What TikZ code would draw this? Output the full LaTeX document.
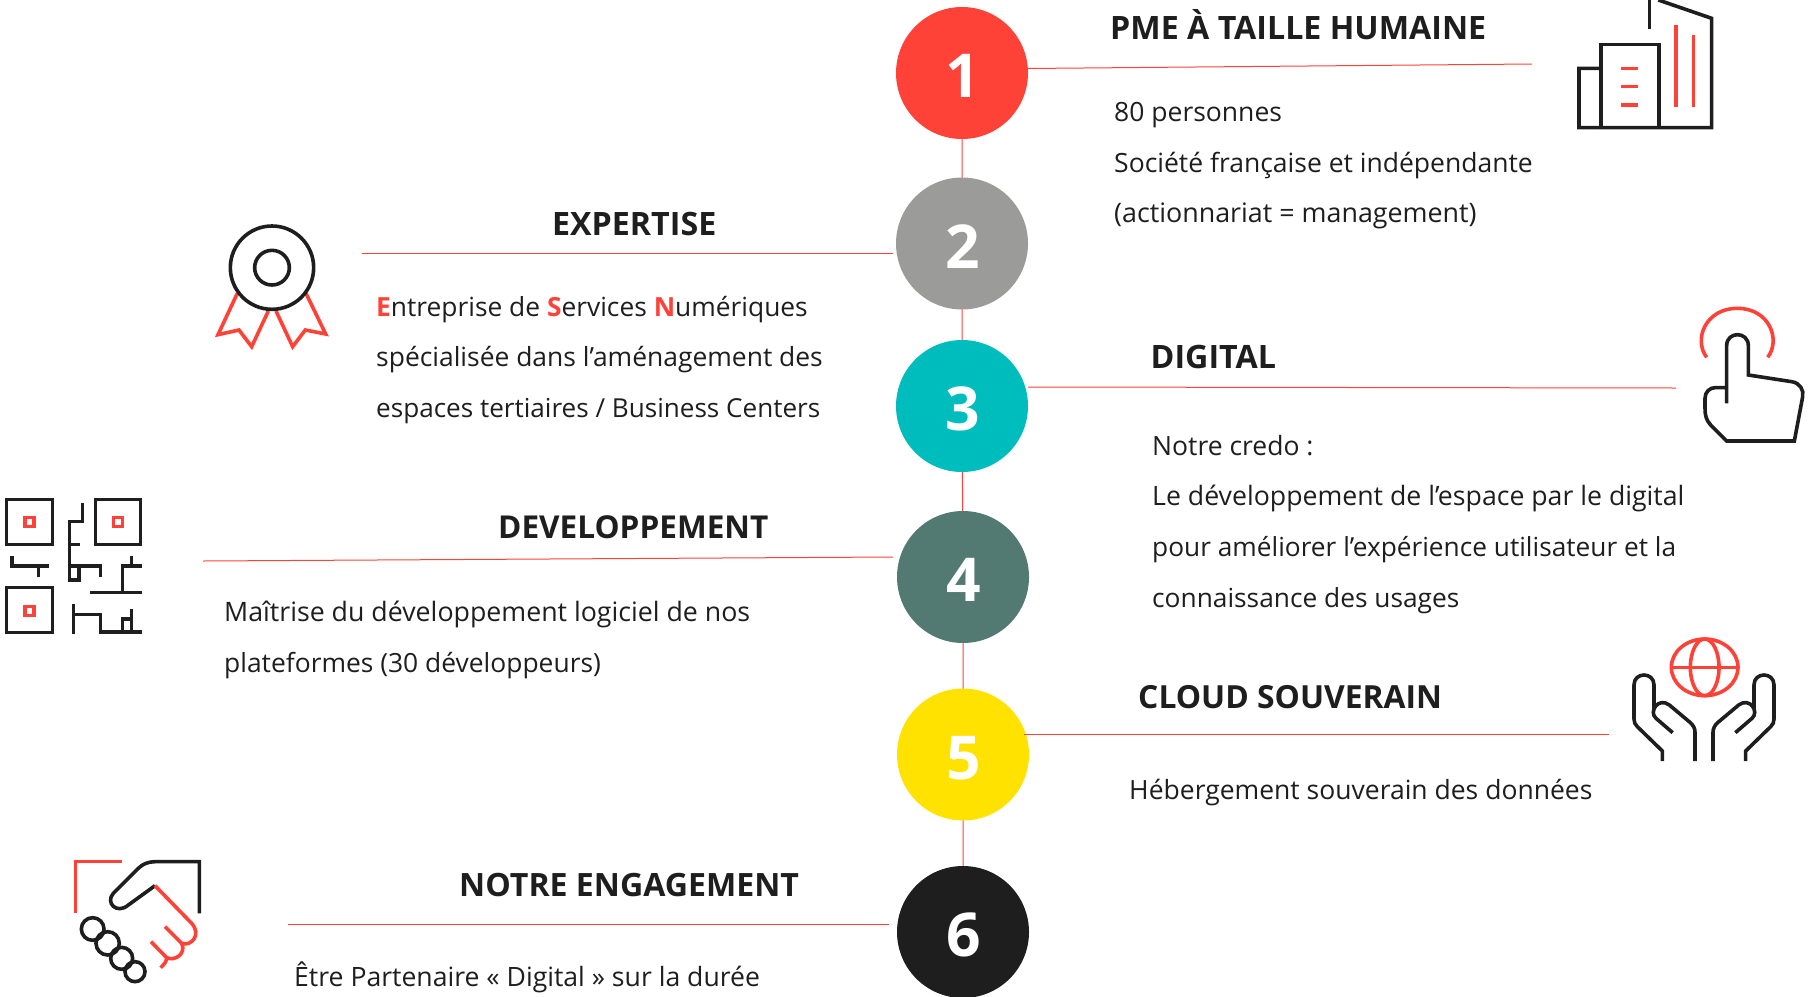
\documentclass[tikz,border=0pt]{standalone}
\usepackage{fontspec}
\setmainfont{Open Sans}
\definecolor{myred}{HTML}{FF4238}
\definecolor{myink}{HTML}{1E1E1E}
\definecolor{cgray}{HTML}{9B9B99}
\definecolor{cteal}{HTML}{00BDBD}
\definecolor{cgreen}{HTML}{527A73}
\definecolor{cyellow}{HTML}{FFE200}
\newcommand{\rl}[1]{\textcolor{myred}{\textbf{#1}}}
\newcommand{\dg}[1]{\hspace*{2pt}#1}
\tikzset{
 num/.style={circle,minimum size=132pt,inner sep=0pt,text height=49pt,text depth=0pt,font=\fontsize{60.5}{60.5}\selectfont\bfseries,text=white},
 ruleline/.style={draw=myred,line width=1pt},
 ttl/.style={anchor=base west,inner sep=0pt,text=myink,font=\fontsize{32.2}{32.2}\selectfont\bfseries},
 szb/.style={font=\fontsize{#1}{#1}\selectfont\bfseries},
 bodyt/.style={anchor=base west,inner sep=0pt,text=myink,font=\fontsize{26.5}{26.5}\selectfont},
 sz/.style={font=\fontsize{#1}{#1}\selectfont},
 ik/.style={draw=myink,line width=3.6pt,line join=miter},
 ir/.style={draw=myred,line width=3.6pt,line join=miter},
 zm/.style={x=0.33333pt,y=-0.33333pt},
}
\begin{document}
\begin{tikzpicture}[x=1pt,y=-1pt]
\useasboundingbox (0,0) rectangle (1809,996);
% circle positions
\coordinate (p1) at (962,73);
\coordinate (p2) at (962,243.5);
\coordinate (p3) at (962,406);
\coordinate (p4) at (963,577);
\coordinate (p5) at (963,754.5);
\coordinate (p6) at (963,932);
\draw[ruleline] (p1)--(p2)--(p3)--(p4)--(p5)--(p6);
\node[num,fill=myred] (c1) at (p1) {\dg{1}};
\node[num,fill=cgray] (c2) at (p2) {\dg{2}};
\node[num,fill=cteal] (c3) at (p3) {\dg{3}};
\node[num,fill=cgreen] (c4) at (p4) {\dg{4}};
\node[num,fill=cyellow] (c5) at (p5) {\dg{5}};
\node[num,fill=myink] (c6) at (p6) {\dg{6}};
% rules
\coordinate (r1a) at (1028,68.5); \coordinate (r1b) at (1532,64);
\coordinate (r2a) at (362,253); \coordinate (r2b) at (893,253);
\coordinate (r3a) at (1028,387); \coordinate (r3b) at (1676,388);
\coordinate (r4a) at (203,561); \coordinate (r4b) at (893,557);
\coordinate (r5a) at (1024,734); \coordinate (r5b) at (1609,734);
\coordinate (r6a) at (288,924); \coordinate (r6b) at (889,924);
\draw[ruleline] (r1a)--(r1b);
\draw[ruleline] (r2a)--(r2b);
\draw[ruleline] (r3a)--(r3b);
\draw[ruleline] (r4a)--(r4b);
\draw[ruleline] (r5a)--(r5b);
\draw[ruleline] (r6a)--(r6b);
% texts
\node[ttl] (t1) at (1110,39) {PME À TAILLE HUMAINE};
\node[bodyt] (b11) at (1114,121) {80 personnes};
\node[bodyt] (b12) at (1114,172) {Société française et indépendante};
\node[bodyt,sz=26.84] (b13) at (1114,222) {(actionnariat = management)};
\node[ttl] (t2) at (552,235) {EXPERTISE};
\node[bodyt,sz=26.36] (b21) at (376,316) {\rl{E}ntreprise de \rl{S}ervices \rl{N}umériques};
\node[bodyt,sz=26.43] (b22) at (376,366.5) {spécialisée dans l’aménagement des};
\node[bodyt,sz=26.1] (b23) at (376,417) {espaces tertiaires / Business Centers};
\node[ttl] (t3) at (1150.5,368) {DIGITAL};
\node[bodyt] (b31) at (1152,455) {Notre credo :};
\node[bodyt,sz=26.67] (b32) at (1152,505) {Le développement de l’espace par le digital};
\node[bodyt,sz=26.27] (b33) at (1152,556) {pour améliorer l’expérience utilisateur et la};
\node[bodyt,sz=26.3] (b34) at (1152,607) {connaissance des usages};
\node[ttl,szb=31.55] (t4) at (498,538) {DEVELOPPEMENT};
\node[bodyt,sz=26.73] (b41) at (224,621) {Maîtrise du développement logiciel de nos};
\node[bodyt,sz=26.4] (b42) at (224,672.5) {plateformes (30 développeurs)};
\node[ttl,szb=31.85] (t5) at (1138,708) {CLOUD SOUVERAIN};
\node[bodyt] (b51) at (1129,799.5) {Hébergement souverain des données};
\node[ttl,szb=32.1] (t6) at (459,896) {NOTRE ENGAGEMENT};
\node[bodyt,sz=26.6] (b61) at (294,986.5) {Être Partenaire « Digital » sur la durée};
% building
\begin{scope}[shift={(1540,0)},zm]
\draw[ik] (329,86)--(329,0);
\draw[ik] (355,0)--(515,55)--(515,383)--(117,383)--(117,205)--(183,205);
\draw[ik] (183,388)--(183,134)--(357,134)--(357,383);
\draw[ir] (408,75)--(408,320);
\draw[ir] (461,104)--(461,320);
\draw[ir] (243,205)--(295,205);
\draw[ir] (243,260)--(295,260);
\draw[ir] (243,315)--(295,315);
\end{scope}
% medal
\begin{scope}[shift={(200,210)},zm]
\draw[ir] (112,250)--(54,374)--(117,360)--(155,410)--(205,303);
\draw[ir] (318,250)--(377,372)--(316,360)--(278,410)--(228,303);
\draw[ik] (216,173) circle[radius=125];
\draw[ik] (216,173) circle[radius=52];
\end{scope}
% plan
\begin{scope}[shift={(0,485)},zm]
\draw[ik] (20,43) rectangle (157,178);
\draw[ik] (286,43) rectangle (422,178);
\draw[ik] (20,308) rectangle (157,442);
\draw[ir] (75,98) rectangle (102,125);
\draw[ir] (341,98) rectangle (368,125);
\draw[ir] (75,364) rectangle (102,391);
\draw[ik] (248,55)--(248,110)--(208,110)--(208,285)--(237,285)--(237,243);
\draw[ik] (208,243)--(302,243)--(302,275);
\draw[ik] (208,178)--(240,178);
\draw[ik] (36,213)--(36,243)--(147,243);
\draw[ik] (115,243)--(115,275);
\draw[ik] (394,213)--(394,243);
\draw[ik] (425,243)--(367,243)--(367,322);
\draw[ik] (270,322)--(425,322);
\draw[ik] (221,358)--(221,447);
\draw[ik] (221,388)--(302,388)--(302,441)--(425,441);
\draw[ik] (367,447)--(367,402)--(394,402);
\draw[ik] (394,372)--(394,447);
\end{scope}
% pointing hand
\begin{scope}[shift={(1680,295)},zm]
\draw[ir] (80,187) .. controls (40,135) and (75,40) .. (172,40) .. controls (269,40) and (303,135) .. (263,187);
\draw[ik] (140,325)--(140,152) .. controls (140,108) and (205,108) .. (205,152)--(205,240)--(335,260) .. controls (360,264) and (372,285) .. (368,305)--(343,438)--(140,438)--(92,390) .. controls (78,375) and (75,360) .. (75,340)--(75,310) .. controls (75,290) and (90,278) .. (105,278)--(140,278);
\end{scope}
% globe and hands
\begin{scope}[shift={(1620,625)},zm]
\draw[ir] (254,127) ellipse[x radius=100,y radius=85];
\draw[ir] (254,127) ellipse[x radius=43,y radius=85];
\draw[ir] (154,127)--(354,127);
\draw[ik] (127,408)--(127,378)--(52,305) .. controls (45,298) and (42,292) .. (42,282)--(42,180) .. controls (42,140) and (102,140) .. (102,180)--(102,250);
\draw[ik] (158,323)--(108,280) .. controls (85,260) and (115,215) .. (148,240)--(210,292) .. controls (220,301) and (225,310) .. (225,322)--(225,408);
\draw[ik] (377,408)--(377,378)--(452,305) .. controls (459,298) and (462,292) .. (462,282)--(462,180) .. controls (462,140) and (402,140) .. (402,180)--(402,250);
\draw[ik] (346,323)--(396,280) .. controls (419,260) and (389,215) .. (356,240)--(294,292) .. controls (284,301) and (279,310) .. (279,322)--(279,408);
\end{scope}
% handshake
\begin{scope}[shift={(60,845)},zm]
\draw[ir] (46,205)--(46,50)--(187,50);
\draw[ik] (418,205)--(418,50)--(285,50) .. controls (265,50) and (248,57) .. (235,70)--(160,145) .. controls (135,172) and (170,210) .. (205,180)--(285,122);
\draw[ir] (285,122)--(395,235) .. controls (425,268) and (395,305) .. (365,295);
\draw[ir] (315,245)--(365,295) .. controls (380,325) and (345,350) .. (320,338);
\draw[ir] (273,290)--(320,338) .. controls (320,350) and (312,358) .. (302,368);
\draw[ik] (98,252) circle[radius=34];
\draw[ik] (143,295) circle[radius=35];
\draw[ik] (185,340) circle[radius=33];
\draw[ik] (225,380) circle[radius=30];
\end{scope}
\end{tikzpicture}
\end{document}
